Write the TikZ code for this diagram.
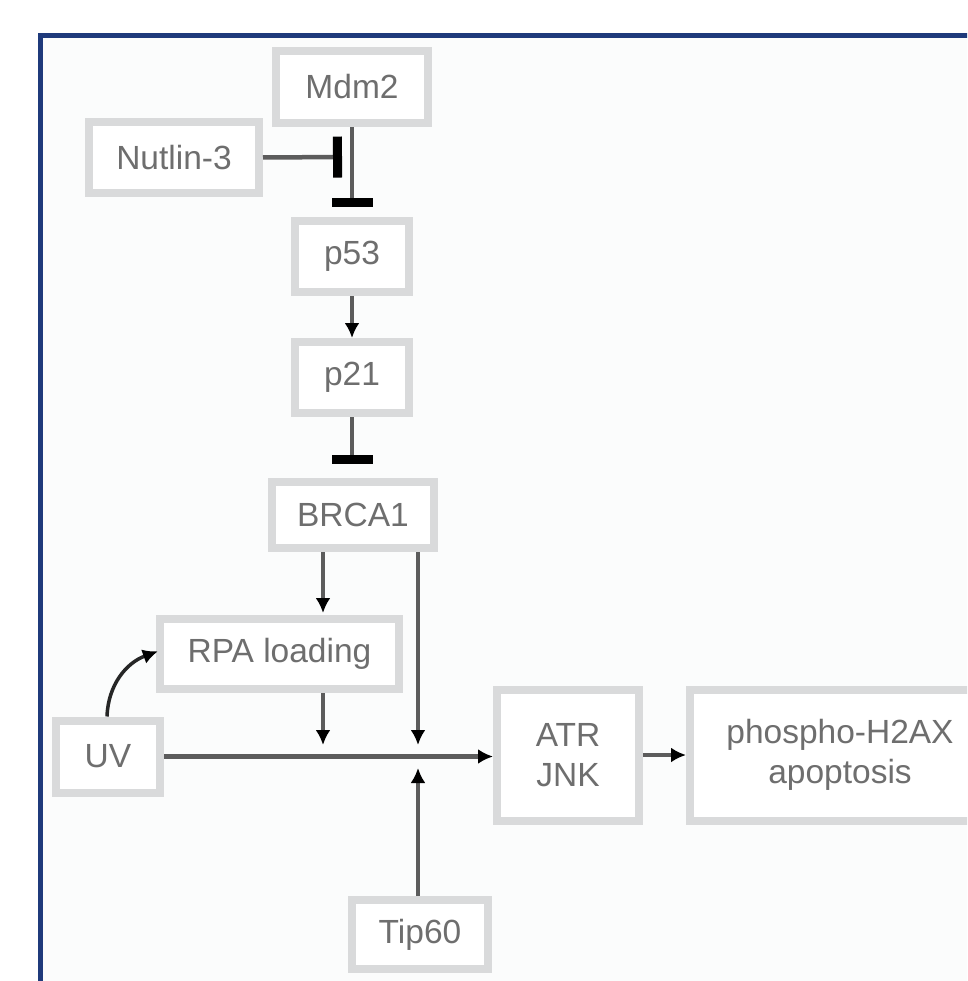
\documentclass[tikz,border=0pt]{standalone}
\usepackage{fontspec}
\setmainfont{Liberation Sans}
\usetikzlibrary{arrows.meta}
\definecolor{framebl}{HTML}{1F3A7B}
\definecolor{boxgr}{HTML}{D9DADB}
\definecolor{txtgr}{HTML}{6E6E6E}
\definecolor{lnk}{HTML}{5C5C5C}
\definecolor{paper}{HTML}{FBFCFC}
\begin{document}
\begin{tikzpicture}[x=1pt,y=-1pt,
  gene/.style={draw=boxgr,line width=8pt,fill=white,text=txtgr,
    font=\fontsize{33.5}{40}\selectfont,align=center,inner sep=0pt},
  act/.style={draw=lnk,line width=4.5pt,-{Latex[length=15pt,width=15pt,color=black]}},
  inh/.style={draw=lnk,line width=4.5pt,-{Bar[width=41pt,line width=9pt,color=black]}}]
\useasboundingbox (0,0) rectangle (967,981);
\clip (0,0) rectangle (967,981);
% frame
\fill[paper] (40,35) rectangle (980,990);
\draw[framebl,line width=5.5pt] (40.5,990) -- (40.5,35.5) -- (980,35.5);
% boxes
\node[gene,minimum width=152pt,minimum height=72pt] (mdm2) at (352,87) {Mdm2};
\node[gene,minimum width=170pt,minimum height=71pt] (nutlin) at (174,157.5) {Nutlin-3};
\node[gene,minimum width=114pt,minimum height=71pt] (p53) at (352,256.5) {p53};
\node[gene,minimum width=114pt,minimum height=71pt] (p21) at (352,377.5) {p21};
\node[gene,minimum width=162pt,minimum height=66pt] (brca1) at (353,515) {BRCA1};
\node[gene,minimum width=239pt,minimum height=70pt] (rpa) at (279.5,654) {RPA loading};
\node[gene,minimum width=104pt,minimum height=72pt] (uv) at (108,756.5) {UV};
\node[gene,minimum width=136pt,minimum height=69pt] (tip60) at (420,934.5) {Tip60};
\node[gene,minimum width=142pt,minimum height=131pt] (atr) at (568,755) {ATR\\JNK};
\node[gene,minimum width=300pt,minimum height=131pt] (phos) at (840,755) {phospho-H2AX\\apoptosis};
% free ends of connectors
\coordinate (nbar) at (342,157);
\coordinate (mbar) at (352,207);
\coordinate (pbar) at (352,464);
\coordinate (rpaIn) at (323,613);
\coordinate (jA) at (323,745);
\coordinate (jB) at (418,745);
\coordinate (jC) at (418,768);
% connectors
\draw[inh] (nutlin.east) -- (nbar);
\draw[inh] (mdm2.south) -- (mbar);
\draw[act] (p53.south) -- (p21.north);
\draw[inh] (p21.south) -- (pbar);
\draw[act] (brca1.south -| rpaIn) -- (rpaIn);
\draw[act] (brca1.south -| jB) -- (jB);
\draw[act] (rpa.south -| jA) -- (jA);
\draw[act] (uv.east) -- (uv.east -| atr.west);
\draw[act] (tip60.north -| jC) -- (jC);
\draw[act] (atr.east) -- (phos.west);
\draw[act,draw=black!85,line width=3.5pt,shorten >=-2pt] ([xshift=-1pt]uv.north) to[out=88,in=200] ([yshift=2pt]rpa.west);
\end{tikzpicture}
\end{document}
